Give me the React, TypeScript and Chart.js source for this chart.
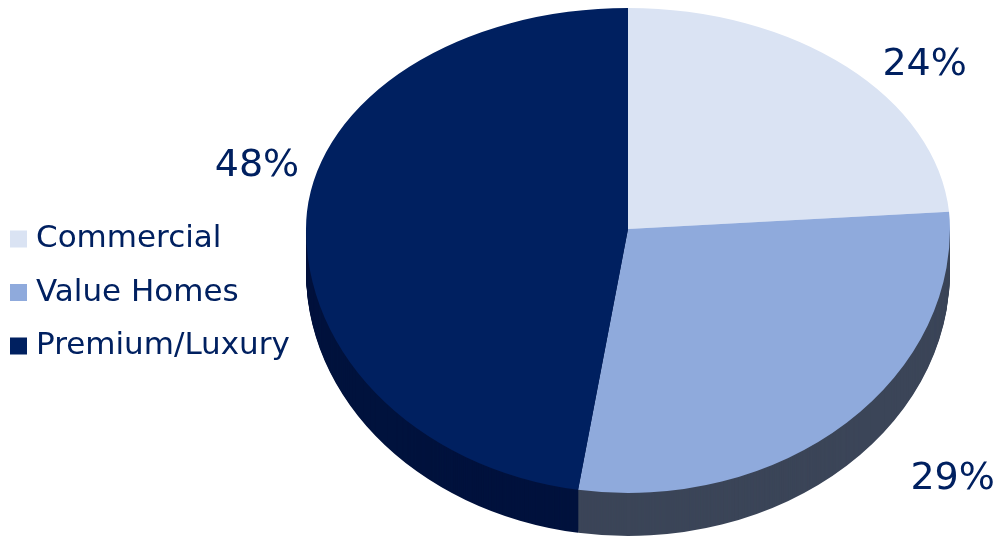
import { useEffect, useRef } from "react";
import { Chart, registerables } from "chart.js";

Chart.register(...registerables);

// ---- data ----
const categories = ["Commercial", "Value Homes", "Premium/Luxury"];
const shares = [24, 29, 48];
const percentLabels = ["24%", "29%", "48%"];

// ---- styles ----
const faceColors = ["#dae3f3", "#8faadc", "#002060"];
const sideColors = ["#9ea7b8", "#3b4558", "#00123d"];
const INK = "#002060";
const FONT = "'DejaVu Sans', 'Noto Sans', sans-serif";

// tilted pie geometry (screen space); far half is foreshortened more than near half
const PIE = { cx: 628, cy: 229, rx: 322, ryTop: 221, ryBot: 264, depth: 43 };
// label nudges from the slice mid-point on the rim (cap-centre of the text)
const LABEL_NUDGE: [number, number][] = [
  [78, -6],
  [106, 52],
  [-50, -50],
];
const LABEL_SIZE = 38;

function drawArcs(ctx: any, arcs: any[], ry: number, dy: number, colors: string[] | null) {
  const a0 = arcs[0];
  const r = a0.outerRadius;
  ctx.save();
  ctx.translate(PIE.cx, PIE.cy + dy);
  ctx.scale(PIE.rx / r, ry / r);
  ctx.translate(-a0.x, -a0.y);
  arcs.forEach((arc: any, i: number) => {
    if (colors) {
      const saved = arc.options;
      arc.options = Object.create(saved, {
        backgroundColor: { value: colors[i] },
        borderColor: { value: colors[i] },
        borderWidth: { value: 0 },
      });
      arc.draw(ctx);
      arc.options = saved;
    } else {
      arc.draw(ctx);
    }
  });
  ctx.restore();
}

const tiltPlugin = {
  id: "tilt3d",
  beforeDatasetsDraw(chart: any) {
    const arcs = chart.getDatasetMeta(0).data;
    if (!arcs.length) return;
    const ctx = chart.ctx;
    const W = chart.width;
    const H = chart.height;
    // near half: side wall, then face
    ctx.save();
    ctx.beginPath();
    ctx.rect(0, PIE.cy, W, H - PIE.cy);
    ctx.clip();
    for (let d = PIE.depth; d >= 1; d--) drawArcs(ctx, arcs, PIE.ryBot, d, sideColors);
    drawArcs(ctx, arcs, PIE.ryBot, 0, null);
    ctx.restore();
    // far half: face only
    ctx.save();
    ctx.beginPath();
    ctx.rect(0, 0, W, PIE.cy);
    ctx.clip();
    drawArcs(ctx, arcs, PIE.ryTop, 0, null);
    ctx.restore();
    return false;
  },
  afterDraw(chart: any) {
    const arcs = chart.getDatasetMeta(0).data;
    const ctx = chart.ctx;
    ctx.save();
    ctx.fillStyle = INK;
    ctx.font = `${LABEL_SIZE}px ${FONT}`;
    ctx.textAlign = "center";
    ctx.textBaseline = "alphabetic";
    const capHalf = (0.729 * LABEL_SIZE) / 2;
    arcs.forEach((arc: any, i: number) => {
      const mid = (arc.startAngle + arc.endAngle) / 2;
      const s = Math.sin(mid);
      const ax = PIE.cx + PIE.rx * Math.cos(mid);
      const ay = PIE.cy + (s < 0 ? PIE.ryTop : PIE.ryBot) * s;
      const [nx, ny] = LABEL_NUDGE[i];
      ctx.fillText(percentLabels[i], ax + nx, ay + ny + capHalf);
    });
    ctx.restore();
  },
};

export default function App() {
  const ref = useRef<HTMLCanvasElement>(null);
  useEffect(() => {
    document.body.style.margin = "0";
    const canvas = ref.current;
    if (!canvas) return;
    const chart = new Chart(canvas, {
      type: "pie",
      data: {
        labels: categories,
        datasets: [
          {
            data: shares,
            backgroundColor: faceColors,
            borderWidth: 0,
            clip: false,
          } as any,
        ],
      },
      options: {
        responsive: false,
        maintainAspectRatio: false,
        animation: false,
        layout: { padding: { top: 45, left: -6, right: 0, bottom: 0 } },
        plugins: {
          tooltip: { enabled: false },
          legend: {
            position: "left",
            labels: {
              usePointStyle: true,
              pointStyle: "rect",
              boxWidth: 4,
              boxHeight: 17,
              padding: 22.5,
              color: INK,
              font: { family: FONT, size: 31 },
            },
          },
        },
        events: [],
      },
      plugins: [tiltPlugin],
    });
    return () => chart.destroy();
  }, []);
  return (
    <div style={{ width: 999, height: 540, background: "#ffffff" }}>
      <canvas ref={ref} width={999} height={540} style={{ display: "block" }} />
    </div>
  );
}
